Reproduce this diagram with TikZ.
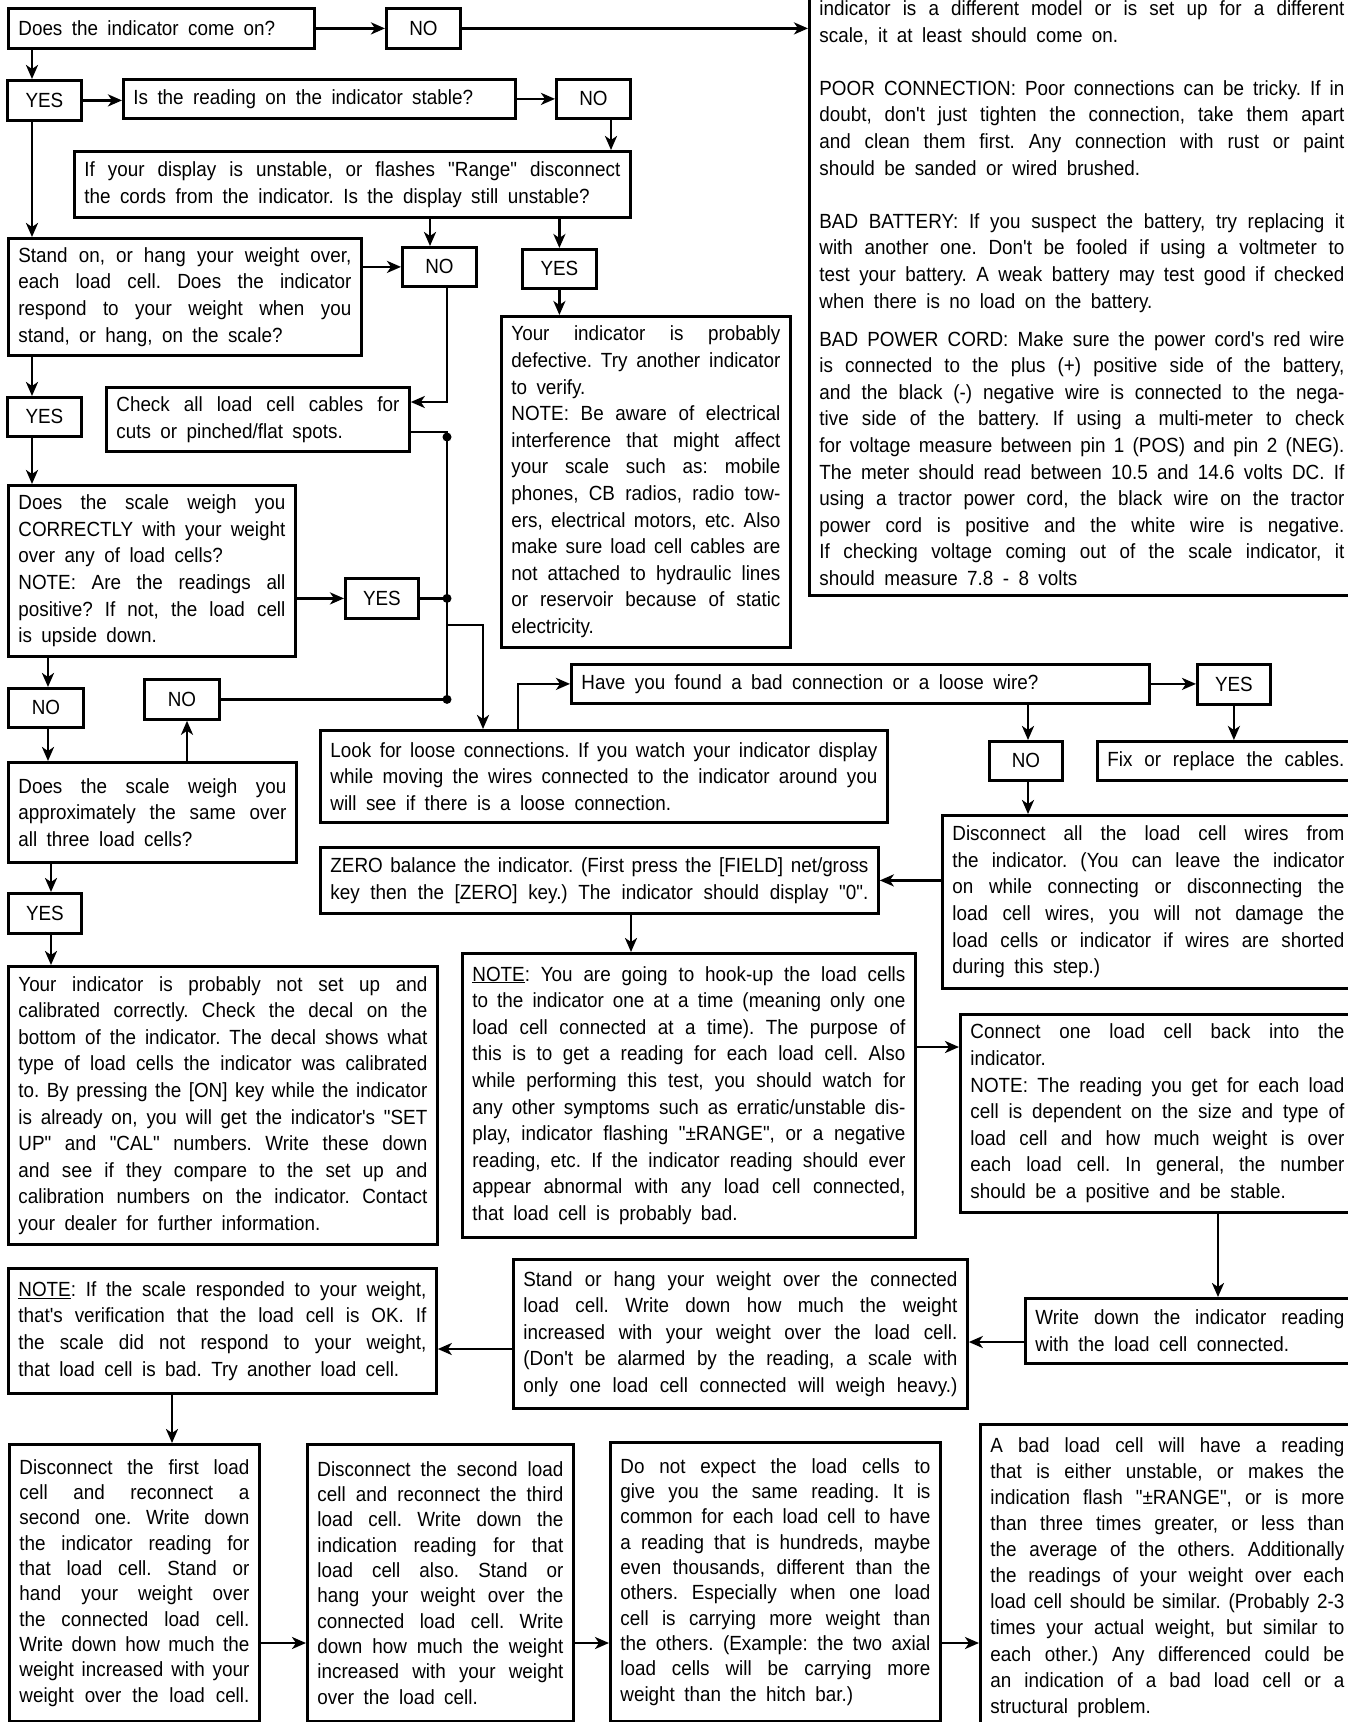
\documentclass[tikz,border=0pt]{standalone}
\usepackage{fontspec}
\usetikzlibrary{arrows.meta}
\newfontfamily\chartfont{Liberation Sans}[FakeStretch=0.92,WordSpace={1.8,3,2.5}]
\newcommand{\chartfs}{\chartfont\fontsize{20.5pt}{26.6pt}\selectfont\frenchspacing}
\newcommand{\jline}[1]{\hbox to\hsize{\spaceskip=0pt\xspaceskip=0pt #1}}

\tikzset{
  box/.style={draw, line width=2.8pt, anchor=north west, align=justify,
    inner xsep=10pt, inner ysep=0pt, font=\chartfs},
  tight/.style={font=\chartfont\fontsize{20.5pt}{25.3pt}\selectfont\frenchspacing},
  tag/.style={draw, line width=2.8pt, anchor=north west, inner sep=0pt, font=\chartfs},
  arr/.style={line width=2.8pt, -{Stealth[length=14pt,width=12pt,inset=4pt]}},
  ln/.style={line width=2.8pt},
}

\begin{document}
\begin{tikzpicture}[x=1pt,y=-1pt]
    \useasboundingbox (0,0) rectangle (1348,1722);

    % Power and stability checks
    \node[box, minimum width=306pt, minimum height=40pt, text width=286pt] (q1) at (7,7) {Does the indicator come on?};
    \node[tag, minimum width=74pt, minimum height=40pt] (no1) at (385,7) {NO};
    \node[tag, minimum width=74pt, minimum height=40pt] (yes1) at (6,79) {YES};
    \node[box, minimum width=392pt, minimum height=39pt, text width=372pt] (q2) at (122,78) {Is the reading on the indicator stable?};
    \node[tag, minimum width=74pt, minimum height=39pt] (no2) at (555,78) {NO};
    \node[box, minimum width=556pt, minimum height=66pt, text width=536pt] (q3) at (73,150) {%
      \jline{If your display is unstable, or flashes "Range" disconnect}
      the cords from the indicator. Is the display still unstable?};
    \node[tag, minimum width=74pt, minimum height=39pt] (no3) at (401,246) {NO};
    \node[tag, minimum width=74pt, minimum height=39pt] (yes3) at (521,248) {YES};
    \node[box, minimum width=353pt, minimum height=117pt, text width=333pt] (q4) at (7,237) {%
      \jline{Stand on, or hang your weight over,}
      \jline{each load cell. Does the indicator}
      \jline{respond to your weight when you}
      stand, or hang, on the scale?};
    \node[box, minimum width=303pt, minimum height=64pt, text width=283pt] (check) at (105,386) {%
      \jline{Check all load cell cables for}
      cuts or pinched/flat spots.};
    \node[tag, minimum width=74pt, minimum height=39pt] (yes2) at (6,396) {YES};
    \node[box, minimum width=289pt, minimum height=331pt, text width=269pt] (defect) at (500,315) {%
      \jline{Your indicator is probably}
      \jline{defective. Try another indicator}
      to verify.\par
      \jline{NOTE: Be aware of electrical}
      \jline{interference that might affect}
      \jline{your scale such as: mobile}
      \jline{phones, CB radios, radio tow-}
      \jline{ers, electrical motors, etc. Also}
      \jline{make sure load cell cables are}
      \jline{not attached to hydraulic lines}
      \jline{or reservoir because of static}
      electricity.};

    % Notes on the right
    \node[draw, line width=2.8pt, anchor=south west, inner xsep=10pt, inner ysep=10pt, font=\chartfs] (info) at (808,597) {%
      \parbox[c][640pt][b]{525pt}{%
      \jline{indicator is a different model or is set up for a different}
      scale, it at least should come on.\par\vskip26.6pt
      \jline{POOR CONNECTION: Poor connections can be tricky. If in}
      \jline{doubt, don't just tighten the connection, take them apart}
      \jline{and clean them first. Any connection with rust or paint}
      should be sanded or wired brushed.\par\vskip26.6pt
      \jline{BAD BATTERY: If you suspect the battery, try replacing it}
      \jline{with another one. Don't be fooled if using a voltmeter to}
      \jline{test your battery. A weak battery may test good if checked}
      when there is no load on the battery.\par\vskip11.4pt
      \jline{BAD POWER CORD: Make sure the power cord's red wire}
      \jline{is connected to the plus (+) positive side of the battery,}
      \jline{and the black (-) negative wire is connected to the nega-}
      \jline{tive side of the battery. If using a multi-meter to check}
      \jline{for voltage measure between pin 1 (POS) and pin 2 (NEG).}
      \jline{The meter should read between 10.5 and 14.6 volts DC. If}
      \jline{using a tractor power cord, the black wire on the tractor}
      \jline{power cord is positive and the white wire is negative.}
      \jline{If checking voltage coming out of the scale indicator, it}
      should measure 7.8 - 8 volts}};

    % Weighing checks
    \node[box, minimum width=287pt, minimum height=171pt, text width=267pt] (q5) at (7,484) {%
      \jline{Does the scale weigh you}
      \jline{CORRECTLY with your weight}
      over any of load cells?\par
      \jline{NOTE: Are the readings all}
      \jline{positive? If not, the load cell}
      is upside down.};
    \node[tag, minimum width=73pt, minimum height=40pt] (yes4) at (344,577) {YES};
    \node[tag, minimum width=75pt, minimum height=39pt] (no4) at (7,687) {NO};
    \node[tag, minimum width=75pt, minimum height=40pt] (no5) at (143,678) {NO};
    \node[box, minimum width=288pt, minimum height=100pt, text width=268pt] (q6) at (7,761) {%
      \jline{Does the scale weigh you}
      \jline{approximately the same over}
      all three load cells?};
    \node[tag, minimum width=73pt, minimum height=40pt] (yes5) at (7,892) {YES};
    \node[box, minimum width=429pt, minimum height=278pt, text width=409pt] (setup) at (7,965) {%
      \jline{Your indicator is probably not set up and}
      \jline{calibrated correctly. Check the decal on the}
      \jline{bottom of the indicator. The decal shows what}
      \jline{type of load cells the indicator was calibrated}
      \jline{to. By pressing the [ON] key while the indicator}
      \jline{is already on, you will get the indicator's "SET}
      \jline{UP" and "CAL" numbers. Write these down}
      \jline{and see if they compare to the set up and}
      \jline{calibration numbers on the indicator. Contact}
      your dealer for further information.};

    % Loose connections
    \node[box, minimum width=567pt, minimum height=92pt, text width=547pt] (look) at (319,729) {%
      \jline{Look for loose connections. If you watch your indicator display}
      \jline{while moving the wires connected to the indicator around you}
      will see if there is a loose connection.};
    \node[box, minimum width=578pt, minimum height=39pt, text width=558pt] (found) at (570,663) {Have you found a bad connection or a loose wire?};
    \node[tag, minimum width=73pt, minimum height=40pt] (yes6) at (1196,663) {YES};
    \node[tag, minimum width=73pt, minimum height=39pt] (no6) at (988,740) {NO};
    \node[box, minimum width=257pt, minimum height=39pt, text width=237pt] (fix) at (1096,740) {\jline{Fix or replace the cables.}};
    \node[box, minimum width=412pt, minimum height=173pt, text width=392pt] (discall) at (941,814) {%
      \jline{Disconnect all the load cell wires from}
      \jline{the indicator. (You can leave the indicator}
      \jline{on while connecting or disconnecting the}
      \jline{load cell wires, you will not damage the}
      \jline{load cells or indicator if wires are shorted}
      during this step.)};
    \node[box, minimum width=558pt, minimum height=66pt, text width=538pt] (zero) at (319,846) {%
      \jline{ZERO balance the indicator. (First press the [FIELD] net/gross}
      \jline{key then the [ZERO] key.) The indicator should display "0".}};

    % One load cell at a time
    \node[box, minimum width=453pt, minimum height=284pt, text width=433pt] (note1) at (461,952) {%
      \jline{\underline{NOTE}: You are going to hook-up the load cells}
      \jline{to the indicator one at a time (meaning only one}
      \jline{load cell connected at a time). The purpose of}
      \jline{this is to get a reading for each load cell. Also}
      \jline{while performing this test, you should watch for}
      \jline{any other symptoms such as erratic/unstable dis-}
      \jline{play, indicator flashing "±RANGE", or a negative}
      \jline{reading, etc. If the indicator reading should ever}
      \jline{appear abnormal with any load cell connected,}
      that load cell is probably bad.};
    \node[box, minimum width=394pt, minimum height=198pt, text width=374pt] (connect) at (959,1013) {%
      \jline{Connect one load cell back into the}
      indicator.\par
      \jline{NOTE: The reading you get for each load}
      \jline{cell is dependent on the size and type of}
      \jline{load cell and how much weight is over}
      \jline{each load cell. In general, the number}
      should be a positive and be stable.};
    \node[box, minimum width=329pt, minimum height=65pt, text width=309pt] (write) at (1024,1297) {%
      \jline{Write down the indicator reading}
      with the load cell connected.};
    \node[box, minimum width=454pt, minimum height=149pt, text width=434pt] (stand) at (512,1258) {%
      \jline{Stand or hang your weight over the connected}
      \jline{load cell. Write down how much the weight}
      \jline{increased with your weight over the load cell.}
      \jline{(Don't be alarmed by the reading, a scale with}
      \jline{only one load cell connected will weigh heavy.)}};
    \node[box, minimum width=428pt, minimum height=125pt, text width=408pt] (noteif) at (7,1267) {%
      \jline{\underline{NOTE}: If the scale responded to your weight,}
      \jline{that's verification that the load cell is OK. If}
      \jline{the scale did not respond to your weight,}
      that load cell is bad. Try another load cell.};

    % Bottom row
    \node[box, tight, minimum width=250pt, minimum height=277pt, text width=230pt] (d1) at (8,1443) {%
      \jline{Disconnect the first load}
      \jline{cell and reconnect a}
      \jline{second one. Write down}
      \jline{the indicator reading for}
      \jline{that load cell. Stand or}
      \jline{hand your weight over}
      \jline{the connected load cell.}
      \jline{Write down how much the}
      \jline{weight increased with your}
      \jline{weight over the load cell.}};
    \node[box, tight, minimum width=266pt, minimum height=277pt, text width=246pt] (d2) at (306,1443) {%
      \jline{Disconnect the second load}
      \jline{cell and reconnect the third}
      \jline{load cell. Write down the}
      \jline{indication reading for that}
      \jline{load cell also. Stand or}
      \jline{hang your weight over the}
      \jline{connected load cell. Write}
      \jline{down how much the weight}
      \jline{increased with your weight}
      over the load cell.};
    \node[box, tight, minimum width=330pt, minimum height=279pt, text width=310pt] (d3) at (609,1441) {%
      \jline{Do not expect the load cells to}
      \jline{give you the same reading. It is}
      \jline{common for each load cell to have}
      \jline{a reading that is hundreds, maybe}
      \jline{even thousands, different than the}
      \jline{others. Especially when one load}
      \jline{cell is carrying more weight than}
      \jline{the others. (Example: the two axial}
      \jline{load cells will be carrying more}
      weight than the hitch bar.)};
    \node[box, font=\chartfont\fontsize{20.5pt}{26.1pt}\selectfont\frenchspacing, minimum width=374pt, minimum height=306pt, text width=354pt] (d4) at (979,1423) {%
      \jline{A bad load cell will have a reading}
      \jline{that is either unstable, or makes the}
      \jline{indication flash "±RANGE", or is more}
      \jline{than three times greater, or less than}
      \jline{the average of the others. Additionally}
      \jline{the readings of your weight over each}
      \jline{load cell should be similar. (Probably 2-3}
      \jline{times your actual weight, but similar to}
      \jline{each other.) Any differenced could be}
      \jline{an indication of a bad load cell or a}
      structural problem.};

    % Guide lines for the connectors
    \coordinate (xa) at (32,0);
    \coordinate (xb) at (48,0);
    \coordinate (xc) at (51,0);
    \coordinate (xd) at (187,0);
    \coordinate (xe) at (611,0);
    \coordinate (xf) at (430,0);
    \coordinate (bus) at (447,0);
    \coordinate (xh) at (483,0);
    \coordinate (xi) at (518,0);
    \coordinate (xj) at (1028,0);
    \coordinate (xk) at (631,0);
    \coordinate (xl) at (1218,0);
    \coordinate (xm) at (172,0);
    \coordinate (ck1) at (0,402);
    \coordinate (ck2) at (0,432);
    \coordinate (ck3) at (447,437);
    \coordinate (br) at (0,625);
    \coordinate (ya) at (0,1047);
    \coordinate (yb) at (0,1342);
    \coordinate (yc) at (0,1349);
    \coordinate (yd) at (0,1643);

    % Connectors
    \draw[arr] (q1.east) -- (no1.west);
    \draw[arr] (no1.east) -- (no1.east -| info.west);
    \draw[arr] (q1.south -| xa) -- (yes1.north -| xa);
    \draw[arr] (yes1.east) -- (yes1.east -| q2.west);
    \draw[arr] (q2.east) -- (q2.east -| no2.west);
    \draw[arr] (no2.south -| xe) -- (q3.north -| xe);
    \draw[arr] (yes1.south -| xa) -- (q4.north -| xa);
    \draw[arr] (q3.south -| xf) -- (no3.north -| xf);
    \draw[arr] (q3.south -| yes3) -- (yes3.north);
    \draw[arr] (q4.east |- no3) -- (no3.west);
    \draw[arr] (yes3.south) -- (defect.north -| yes3);
    \draw[arr] (no3.south -| bus) |- (check.east |- ck1);
    \draw[arr] (q4.south -| xa) -- (yes2.north -| xa);
    \draw[arr] (yes2.south -| xa) -- (q5.north -| xa);

    % Bus on the left side
    \draw[ln] (check.east |- ck2) -| (bus |- no5);
    \fill (ck3) circle (4.5pt);
    \draw[arr] (q5.east |- yes4) -- (yes4.west);
    \draw[ln] (yes4.east) -- (bus |- yes4);
    \fill (bus |- yes4) circle (4.5pt);
    \draw[ln] (no5.east) -- (bus |- no5);
    \fill (bus |- no5) circle (4.5pt);
    \draw[arr] (bus |- br) -| (look.north -| xh);
    \draw[arr] (q5.south -| xb) -- (no4.north -| xb);
    \draw[arr] (no4.south -| xb) -- (q6.north -| xb);
    \draw[arr] (q6.north -| xd) -- (no5.south -| xd);
    \draw[arr] (q6.south -| xc) -- (yes5.north -| xc);
    \draw[arr] (yes5.south -| xc) -- (setup.north -| xc);

    \draw[arr] (look.north -| xi) |- (found.west);
    \draw[arr] (found.east) -- (found.east -| yes6.west);
    \draw[arr] (yes6.south) -- (fix.north -| yes6);
    \draw[arr] (found.south -| xj) -- (no6.north -| xj);
    \draw[arr] (no6.south -| xj) -- (discall.north -| xj);
    \draw[arr] (discall.west |- zero) -- (zero.east);
    \draw[arr] (zero.south -| xk) -- (note1.north -| xk);
    \draw[arr] (note1.east |- ya) -- (connect.west |- ya);
    \draw[arr] (connect.south -| xl) -- (write.north -| xl);
    \draw[arr] (write.west |- yb) -- (stand.east |- yb);
    \draw[arr] (stand.west |- yc) -- (noteif.east |- yc);
    \draw[arr] (noteif.south -| xm) -- (d1.north -| xm);
    \draw[arr] (d1.east |- yd) -- (d2.west |- yd);
    \draw[arr] (d2.east |- yd) -- (d3.west |- yd);
    \draw[arr] (d3.east |- yd) -- (d4.west |- yd);
\end{tikzpicture}
\end{document}
